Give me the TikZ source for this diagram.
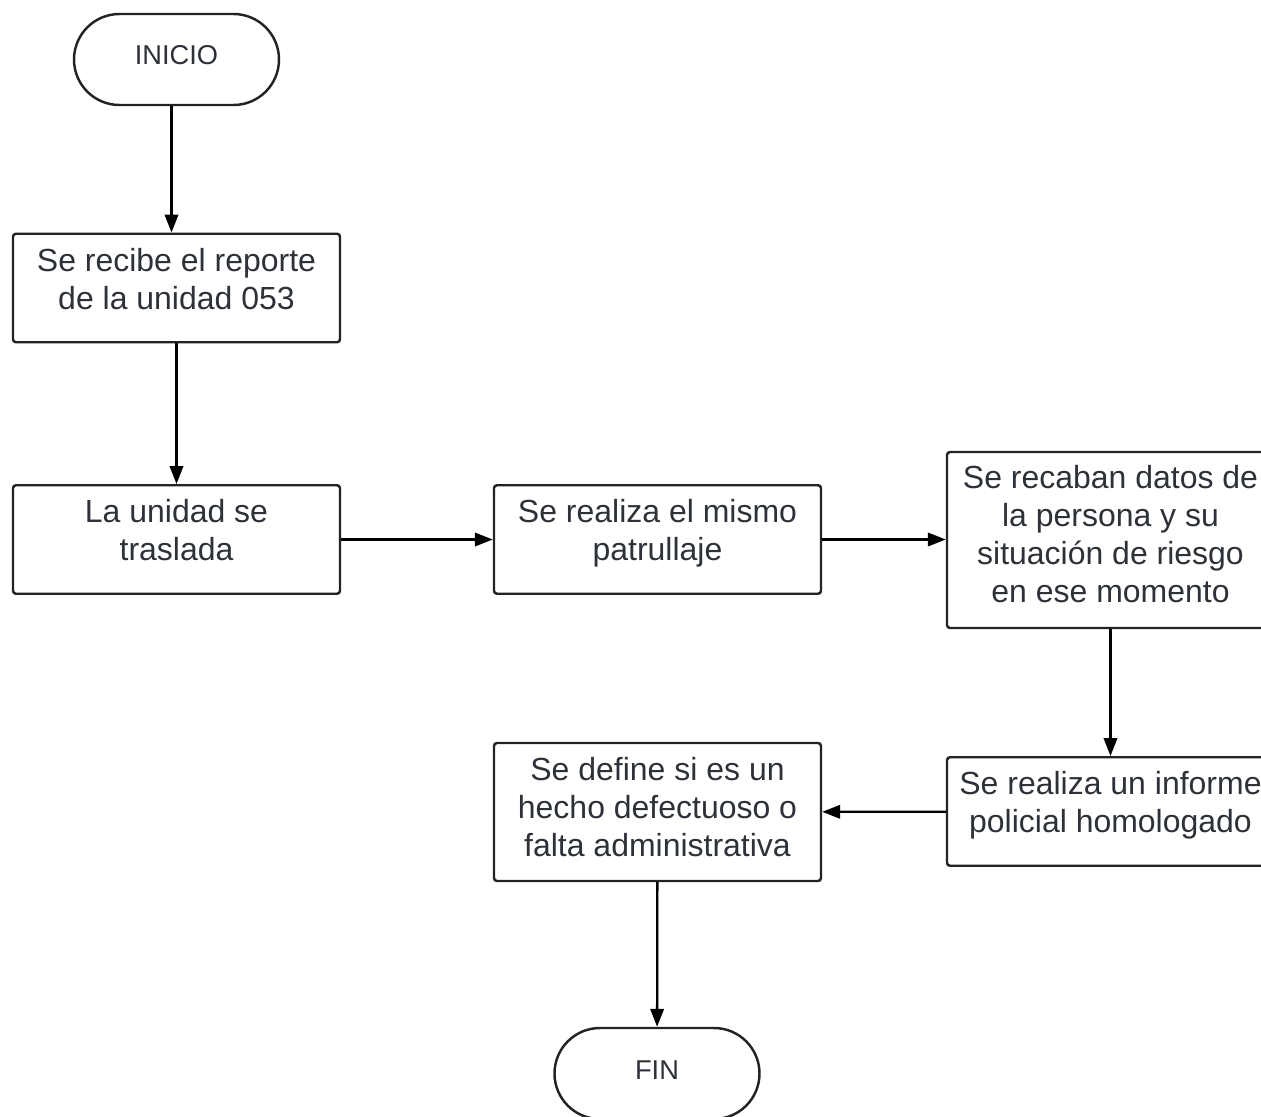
\documentclass[tikz,border=0pt]{standalone}
\usepackage{fontspec}
\setmainfont{Liberation Sans}
\usetikzlibrary{arrows.meta,shapes.misc}
\definecolor{ink}{RGB}{45,50,56}
\definecolor{edge}{RGB}{35,35,38}
% lineas de texto centradas, subidas un poco
\newcommand{\lineas}[2][3pt]{\raisebox{#1}[\height][\depth]{\begin{tabular}{@{}c@{}}#2\end{tabular}}}
\tikzset{
  >={Triangle[length=3.6mm,width=2.7mm]},
  paso/.style={draw=edge,line width=1.4pt,rounded corners=1.7pt,minimum width=6.54cm,
    minimum height=#1,text=ink,inner sep=0pt,
    font=\fontsize{18.2}{21.7}\selectfont},
  paso/.default=2.17cm,
  terminal/.style={draw=edge,line width=1.4pt,rounded rectangle,minimum width=4.1cm,
    minimum height=1.82cm,text=ink,inner sep=0pt,font=\fontsize{15.5}{17}\selectfont},
  flecha/.style={->,line width=1.3pt,draw=black},
}
\begin{document}
\begin{tikzpicture}
  \useasboundingbox (0,0) rectangle (25.22,-22.34);
  % terminales
  \node[terminal] (inicio) at (3.53,-1.19) {\lineas[0.8pt]{INICIO}};
  \node[terminal] (fin) at (13.14,-21.47) {\lineas[0pt]{FIN}};
  % pasos
  \node[paso] (recibe) at (3.53,-5.76) {\lineas{Se recibe el reporte\\de la unidad 053}};
  \node[paso] (traslada) at (3.53,-10.79) {\lineas{La unidad se\\traslada}};
  \node[paso] (patrulla) at (13.15,-10.79) {\lineas{Se realiza el mismo\\patrullaje}};
  \node[paso=3.52cm] (recaba) at (22.21,-10.80) {\lineas[1.3pt]{Se recaban datos de\\la persona y su\\situación de riesgo\\en ese momento}};
  \node[paso] (informe) at (22.21,-16.23) {\lineas{Se realiza un informe\\policial homologado}};
  \node[paso=2.76cm] (define) at (13.15,-16.24) {\lineas[0.5pt]{Se define si es un\\hecho defectuoso o\\falta administrativa}};
  % flechas
  \draw[flecha] ([xshift=-1mm]inicio.south) -- ([xshift=-1mm]recibe.north);
  \draw[flecha] (recibe) -- (traslada);
  \draw[flecha] (traslada) -- (patrulla);
  \draw[flecha] (patrulla) -- (patrulla -| recaba.west);
  \draw[flecha] (recaba) -- (informe);
  \draw[flecha] (informe) -- (define);
  \draw[flecha] (define) -- (fin);
\end{tikzpicture}
\end{document}
